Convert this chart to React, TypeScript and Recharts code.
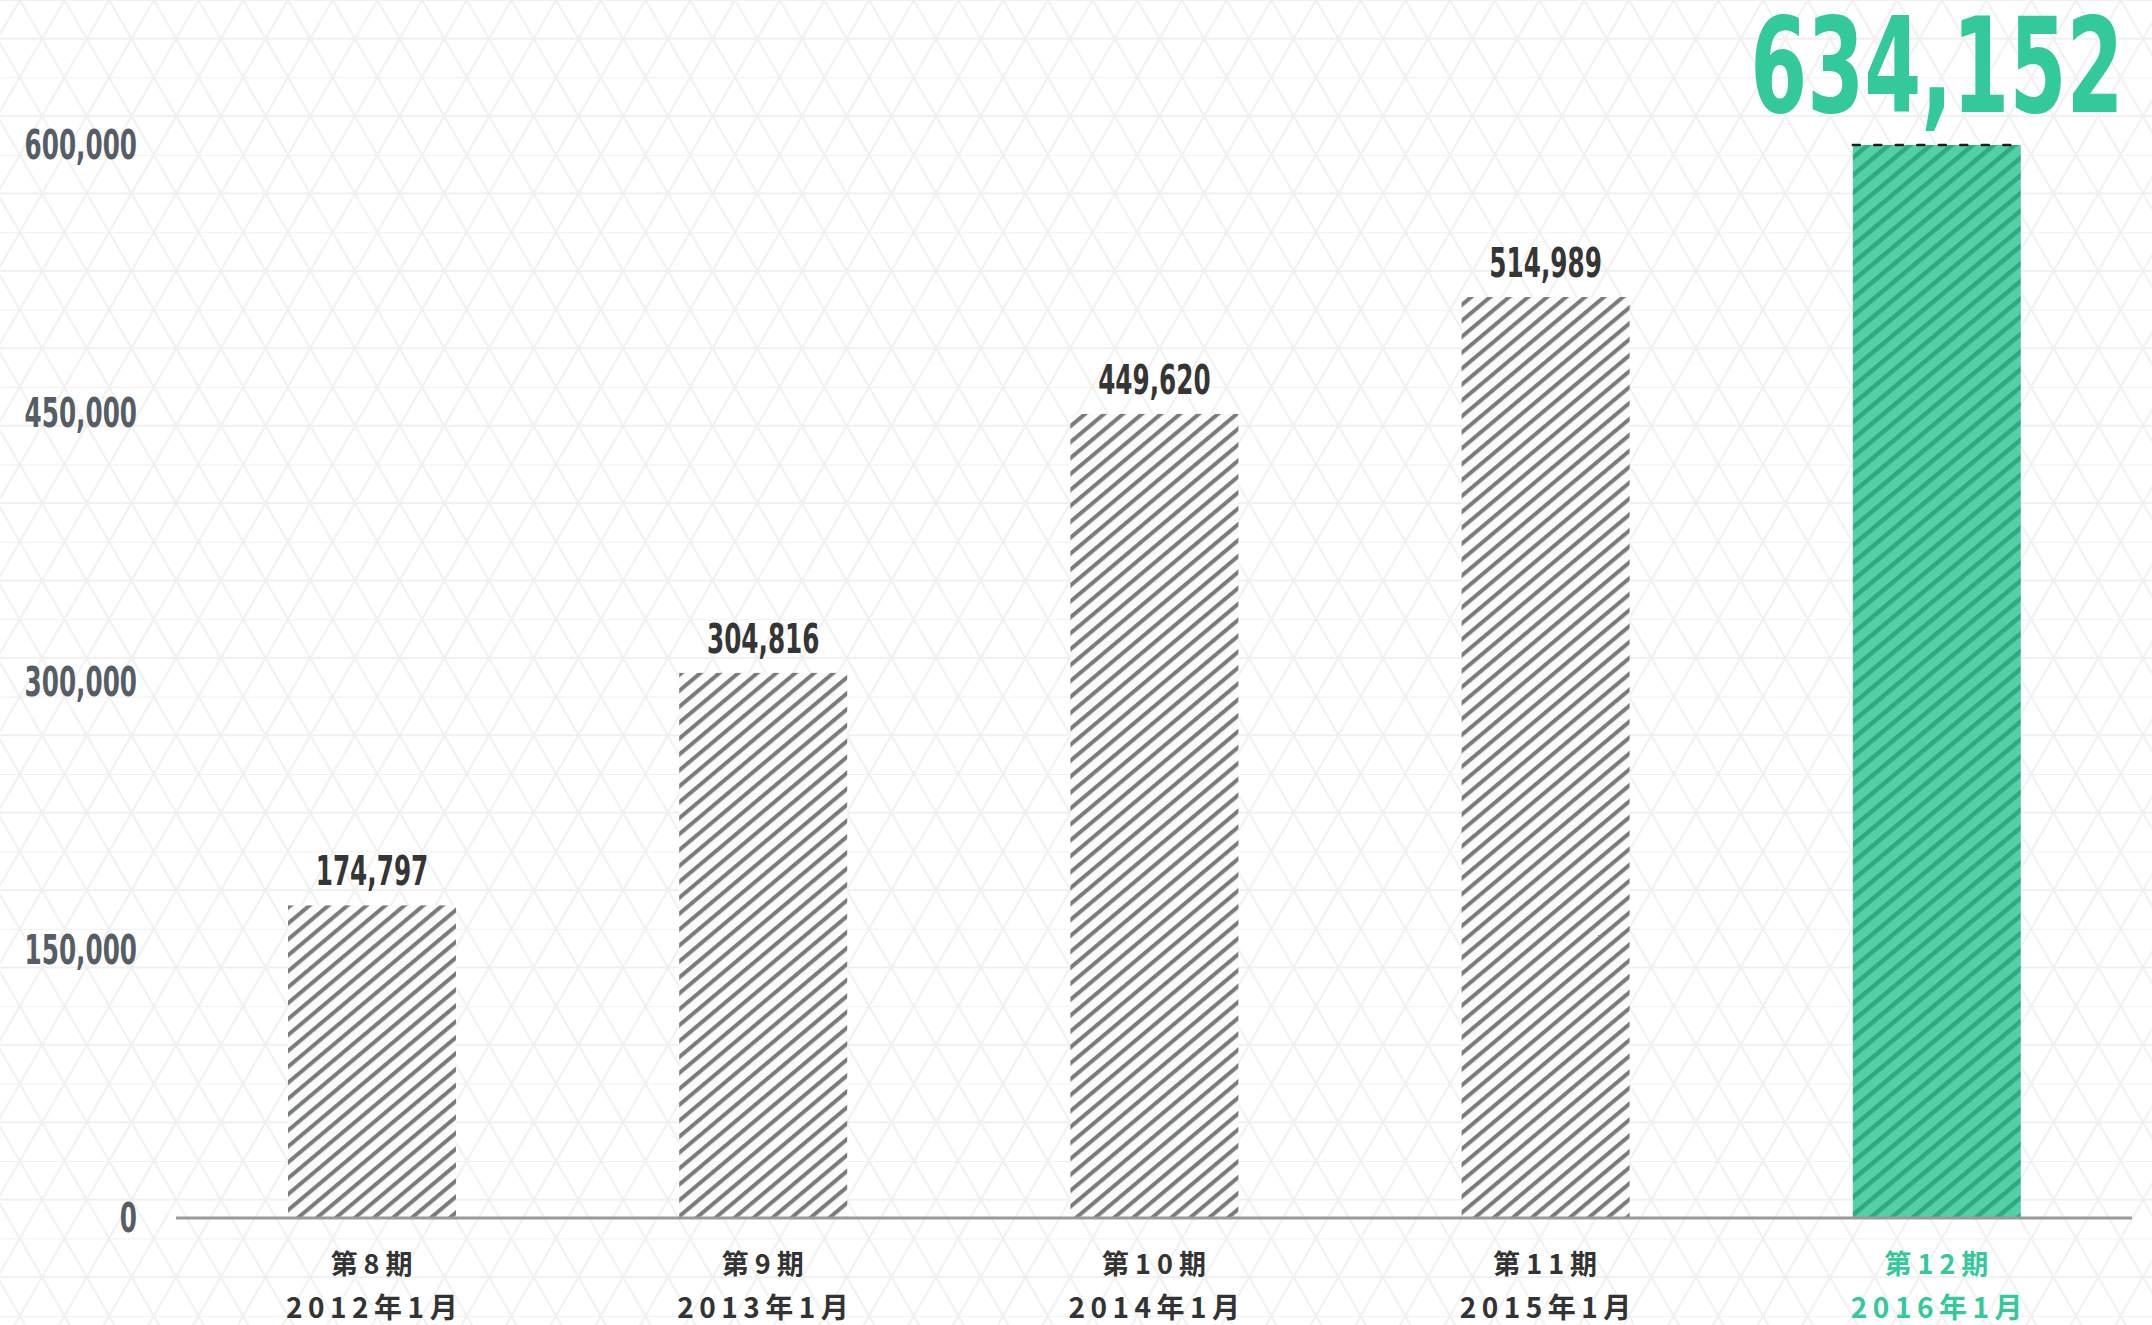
import { BarChart, Bar, XAxis, YAxis, LabelList } from 'recharts'

const periods = ['第8期', '第9期', '第10期', '第11期', '第12期']
const months = ['2012年1月', '2013年1月', '2014年1月', '2015年1月', '2016年1月']
const members = [174797, 304816, 449620, 514989, 634152]
const yTicks = [0, 150000, 300000, 450000, 600000]
const axisMax = 600000

const GREEN = '#33c99a'
const NUM_FONT = "'DejaVu Sans Condensed', 'DejaVu Sans', sans-serif"
const JP_FONT = "'Noto Sans CJK JP', 'Noto Sans', sans-serif"
const SQUEEZE = 0.67 // no condensed display font installed, so narrow it by hand

// bars over the axis max are drawn capped, the label keeps the real number
const data = periods.map((p, i) => ({
  period: p,
  month: months[i],
  value: members[i],
  shown: Math.min(members[i], axisMax),
  highlight: i === periods.length - 1,
}))

const fmt = (v: number) => v.toLocaleString('en-US')

function Background() {
  const w = 44.7
  const h = 77.4
  return (
    <svg width={2152} height={1325} style={{ position: 'absolute', left: 0, top: 0 }}>
      <defs>
        <pattern id="tri" patternUnits="userSpaceOnUse" width={w} height={h} patternTransform="translate(19.7,0)">
          <g stroke="#f0f0f0" strokeWidth={2} fill="none">
            <line x1={0} y1={0} x2={w} y2={0} />
            <line x1={0} y1={h / 2} x2={w} y2={h / 2} />
            <line x1={0} y1={0} x2={w} y2={h} />
            <line x1={w} y1={0} x2={0} y2={h} />
          </g>
        </pattern>
        <pattern id="grayStripe" patternUnits="userSpaceOnUse" width={12.2} height={20} patternTransform="rotate(50)">
          <rect width={12.2} height={20} fill="#fafbfc" />
          <rect x={0} width={4} height={20} fill="#7b7b7b" />
        </pattern>
        <pattern id="greenStripe" patternUnits="userSpaceOnUse" width={13.5} height={20} patternTransform="rotate(50)">
          <rect width={13.5} height={20} fill="#53d0a6" />
          <rect x={0} width={4.5} height={20} fill="#2fa97f" />
        </pattern>
      </defs>
      <rect width={2152} height={1325} fill="#ffffff" />
      <rect width={2152} height={1325} fill="url(#tri)" />
    </svg>
  )
}

function BarShape(props: any) {
  const { x, y, width, height, payload } = props
  const capped = payload.value > axisMax
  return (
    <g>
      <rect x={x} y={y} width={width} height={height} fill={payload.highlight ? 'url(#greenStripe)' : 'url(#grayStripe)'} />
      {capped && (
        <line x1={x} y1={y} x2={x + width} y2={y} stroke="#1e1e1e" strokeWidth={2.5} strokeDasharray="7 14.5" strokeLinecap="round" />
      )}
    </g>
  )
}

function ValueLabel(props: any) {
  const { x, y, width, value, index } = props
  const hl = data[index].highlight
  const cx = x + width / 2
  const cy = y - (hl ? 33 : 20)
  return (
    <text
      transform={`translate(${cx} ${cy}) scale(${hl ? 0.69 : SQUEEZE} 1)`}
      textAnchor="middle"
      fontFamily={NUM_FONT}
      fontWeight={700}
      fontSize={hl ? 132 : 41}
      fill={hl ? GREEN : '#353535'}
    >
      {fmt(value)}
    </text>
  )
}

function XTick(props: any) {
  const { x, y, payload, index } = props
  const hl = data[index].highlight
  const color = hl ? GREEN : '#333333'
  return (
    <g>
      <text x={x + 3} y={y + 48} textAnchor="middle" fontFamily={JP_FONT} fontWeight={hl ? 700 : 600} fontSize={27} letterSpacing={6} fill={color}>
        {payload.value}
      </text>
      <text x={x + 3} y={y + 92} textAnchor="middle" fontFamily={JP_FONT} fontWeight={hl ? 700 : 600} fontSize={28} letterSpacing={5.5} fill={color}>
        {data[index].month}
      </text>
    </g>
  )
}

function YTick(props: any) {
  const { x, y, payload } = props
  return (
    <text transform={`translate(${x} ${y + 14}) scale(${SQUEEZE} 1)`} textAnchor="end" fontFamily={NUM_FONT} fontWeight={700} fontSize={41} fill="#565d65">
      {fmt(payload.value)}
    </text>
  )
}

export default function App() {
  return (
    <div style={{ position: 'absolute', left: 0, top: 0, width: 2152, height: 1325 }}>
      <Background />
      <div style={{ position: 'absolute', left: 0, top: 0 }}>
        <BarChart width={2152} height={1325} data={data} margin={{ top: 145, right: 20, left: 0, bottom: 0 }} barSize={168}>
          <XAxis
            dataKey="period"
            height={107}
            tickLine={false}
            axisLine={{ stroke: '#9a9a9a', strokeWidth: 3 }}
            tick={<XTick />}
            interval={0}
          />
          <YAxis
            width={176}
            domain={[0, axisMax]}
            ticks={yTicks}
            axisLine={false}
            tickLine={false}
            tickSize={0}
            tickMargin={39}
            tick={<YTick />}
          />
          <Bar dataKey="shown" shape={<BarShape />} isAnimationActive={false}>
            <LabelList dataKey="value" content={<ValueLabel />} />
          </Bar>
        </BarChart>
      </div>
    </div>
  )
}
